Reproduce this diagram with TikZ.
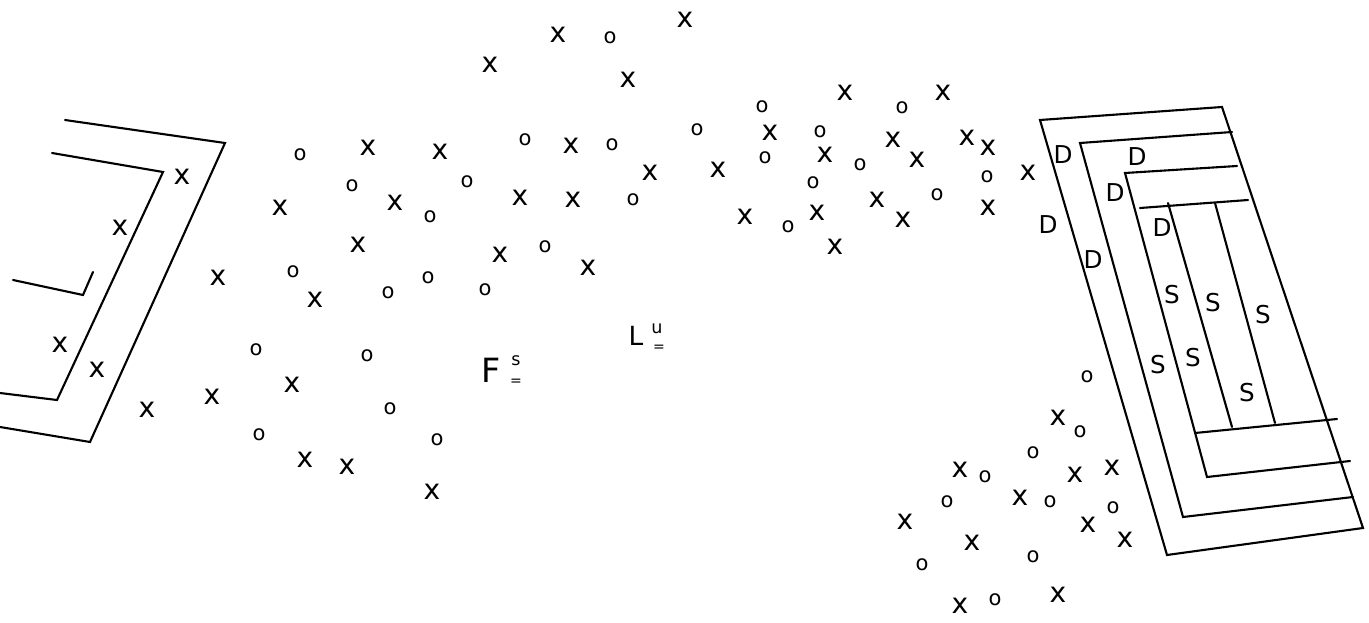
\documentclass[tikz,border=0pt]{standalone}
\usepackage{fontspec}
\setmainfont{DejaVu Sans}
\usepackage{tikz}

\begin{document}
\begin{tikzpicture}[
  x=0.02cm, y=-0.02cm,
  wall/.style={line width=1.2pt, line cap=round, line join=miter},
  xmark/.style={inner sep=0pt, font=\fontsize{16}{16}\selectfont},
  omark/.style={inner sep=0pt, font=\fontsize{12}{12}\selectfont},
  zone/.style={inner sep=0pt, font=\fontsize{14}{14}\selectfont},
  field/.style={inner sep=0pt, font=\fontsize{19}{19}\selectfont},
  fieldidx/.style={inner sep=0pt, font=\fontsize{10}{10}\selectfont},
  fieldbar/.style={inner sep=0pt, font=\fontsize{8}{8}\selectfont},
]
\useasboundingbox (0,0) rectangle (1369,622);
\clip (0,0) rectangle (1369,622);

% ── LEFT FRAME ──
\draw[wall] (65,120) -- (225,143) -- (90,442) -- (0,427);
\draw[wall] (52,153) -- (163,172) -- (57,400) -- (0,393);
\draw[wall] (13,280) -- (83,295) -- (93,272);

% ── RIGHT FRAME (nested) ──
\draw[wall] (1040,120) -- (1222,107) -- (1363,528) -- (1167,555) -- cycle;
\draw[wall] (1232,132) -- (1080,143) -- (1183,517) -- (1353,497);
\draw[wall] (1237,166) -- (1125,173) -- (1207,477) -- (1350,461);
\draw[wall] (1140,208) -- (1248,200);
\draw[wall] (1195,433) -- (1337,419);
\draw[wall] (1168,203) -- (1232,427);
\draw[wall] (1215,203) -- (1275,423);

% ── D and S zones ──
\foreach \px/\py [count=\i] in {1063/155, 1137/157, 1115/193, 1048/225, 1162/228, 1093/260}
  \node[zone] (d\i) at (\px,\py) {D};
\foreach \px/\py [count=\i] in {1172/295, 1213/303, 1263/315, 1158/365, 1193/358, 1247/393}
  \node[zone] (s\i) at (\px,\py) {S};

% ── x marks ──
\foreach \px/\py [count=\i] in {558/35, 685/20, 490/65, 628/80,
    182/177, 120/228, 60/345, 97/370, 147/410, 212/397, 218/278, 280/208,
    368/148, 440/152, 571/146, 395/203, 520/198, 573/200, 358/245, 500/255,
    588/268, 315/300, 292/385, 305/460, 347/467, 432/492}
  \node[xmark] (xl\i) at (\px,\py) {x};
\foreach \px/\py [count=\i] in {650/173, 718/170, 770/133, 845/93, 943/93,
    825/155, 893/140, 917/160, 967/138, 988/148, 1028/173, 745/217, 817/213,
    877/200, 903/220, 988/208, 835/247}
  \node[xmark] (xm\i) at (\px,\py) {x};
\foreach \px/\py [count=\i] in {1058/418, 960/470, 1075/475, 1112/468, 1020/498,
    905/522, 972/543, 1088/525, 1125/540, 1058/595, 960/606}
  \node[xmark] (xb\i) at (\px,\py) {x};

% ── o marks ──
\foreach \px/\py [count=\i] in {610/38, 300/155, 525/140, 612/145, 352/186,
    430/217, 467/182, 293/272, 545/247, 388/293, 428/278, 485/290, 256/350,
    367/356, 390/409, 259/435, 437/440}
  \node[omark] (ol\i) at (\px,\py) {o};
\foreach \px/\py [count=\i] in {697/130, 762/107, 902/108, 765/158, 820/132,
    860/165, 987/177, 813/183, 633/200, 788/227, 937/195}
  \node[omark] (om\i) at (\px,\py) {o};
\foreach \px/\py [count=\i] in {1087/377, 1080/432, 1033/453, 985/477, 947/502,
    1050/502, 1113/508, 922/565, 1033/557, 995/600}
  \node[omark] (ob\i) at (\px,\py) {o};

% ── field labels ──
\node[field] (fs) at (491,370) {F};
\node[fieldidx] (fs_s) at (516,361) {s};
\node[fieldbar] (fs_eq) at (516,382) {=};
\node[field, font=\fontsize{15}{15}\selectfont] (lu) at (636,336) {L};
\node[fieldidx] (lu_u) at (657,329) {u};
\node[fieldbar] (lu_eq) at (659,348) {=};

\end{tikzpicture}
\end{document}
